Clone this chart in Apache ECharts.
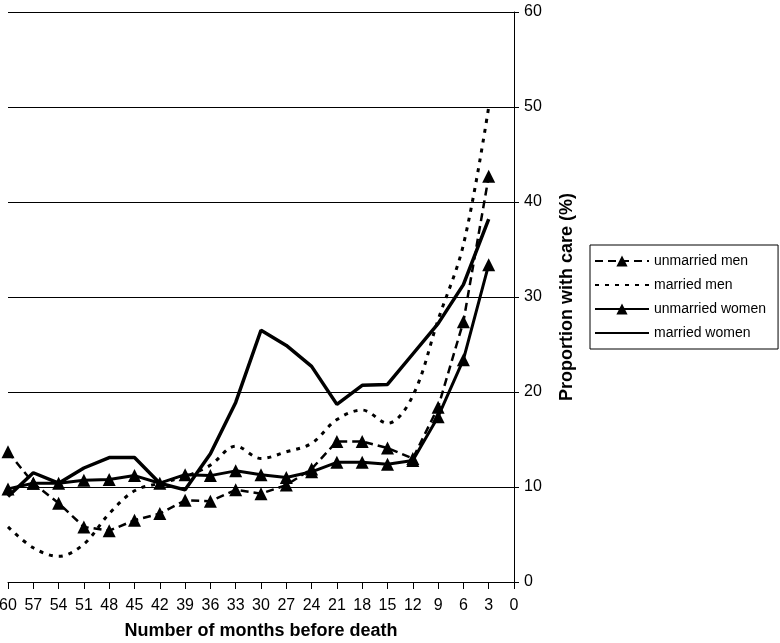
<!DOCTYPE html>
<html>
<head>
<meta charset="utf-8">
<title>Proportion with care</title>
<script src="https://cdn.jsdelivr.net/npm/echarts@6/dist/echarts.min.js"></script>
<style>
  html, body { margin: 0; padding: 0; background: #fff; }
  #main { width: 780px; height: 643px; }
</style>
</head>
<body>
<div id="main"></div>
<script>
// months before death (x axis categories)
const months = ['60', '57', '54', '51', '48', '45', '42', '39', '36', '33', '30', '27', '24', '21', '18', '15', '12', '9', '6', '3', '0']
const yTicks = [0, 10, 20, 30, 40, 50, 60]

// values, % with care, from 60 down to 3 months
const unmarriedMen = [13.7, 10.4, 8.3, 5.8, 5.4, 6.5, 7.2, 8.6, 8.5, 9.7, 9.3, 10.2, 11.9, 14.8, 14.8, 14.1, 13.0, 18.4, 27.4, 42.7]
const marriedMen = [5.8, 3.6, 2.7, 4.0, 7.2, 9.6, 10.4, 11.1, 12.3, 14.3, 13.0, 13.7, 14.6, 17.1, 18.1, 16.7, 19.6, 27.6, 35.5, 50.0]
const unmarriedWomen = [9.8, 10.4, 10.4, 10.7, 10.8, 11.2, 10.4, 11.3, 11.2, 11.7, 11.3, 11.0, 11.6, 12.6, 12.6, 12.4, 12.8, 17.4, 23.4, 33.4]
const marriedWomen = [9.0, 11.5, 10.4, 12.0, 13.1, 13.1, 10.4, 9.7, 13.5, 18.9, 26.5, 24.9, 22.7, 18.7, 20.7, 20.8, 24.0, 27.2, 31.3, 38.2]

const FONT = '"Liberation Sans", Arial, sans-serif'

const chart = echarts.init(document.getElementById('main'))

const option = {
  animation: false,
  backgroundColor: '#fff',
  textStyle: { fontFamily: FONT, color: '#000' },
  grid: {
    left: 8,
    right: 266,
    top: 12,
    bottom: 61,
    // keep the plot box where it is, the axis title sits close to the bottom edge
    outerBoundsMode: 'none',
    containLabel: false,
  },
  legend: {
    left: 590,
    top: 245,
    orient: 'vertical',
    padding: [9, 12, 9, 4],
    borderColor: '#000',
    borderWidth: 1,
    itemWidth: 54,
    itemHeight: 14,
    itemGap: 10,
    textStyle: { fontFamily: FONT, fontSize: 14, color: '#000' },
    data: [
      { name: 'unmarried men' },
      // no marker on these two, only the line
      { name: 'married men', itemStyle: { opacity: 0 } },
      { name: 'unmarried women' },
      { name: 'married women', itemStyle: { opacity: 0 } },
    ],
  },
  xAxis: {
    type: 'category',
    data: months,
    boundaryGap: false,
    name: 'Number of months before death',
    nameLocation: 'middle',
    nameGap: 40,
    nameTextStyle: { fontFamily: FONT, fontSize: 18, fontWeight: 'bold', color: '#000' },
    axisLine: { lineStyle: { color: '#000', width: 1 } },
    axisTick: { length: 7, lineStyle: { color: '#000' }, alignWithLabel: true },
    axisLabel: { fontSize: 16, color: '#000', margin: 16, interval: 0 },
    splitLine: { show: false },
  },
  yAxis: {
    type: 'value',
    position: 'right',
    min: yTicks[0],
    max: yTicks[yTicks.length - 1],
    interval: 10,
    name: 'Proportion with care (%)',
    nameLocation: 'middle',
    nameGap: 44,
    nameRotate: 90,
    nameTextStyle: { fontFamily: FONT, fontSize: 18, fontWeight: 'bold', color: '#000' },
    axisLine: { show: true, lineStyle: { color: '#000', width: 1 } },
    axisTick: { show: true, length: 5, lineStyle: { color: '#000' } },
    axisLabel: { fontSize: 16, color: '#000', margin: 10 },
    splitLine: { show: true, lineStyle: { color: '#000', width: 1 } },
  },
  series: [
    {
      name: 'unmarried men',
      type: 'line',
      data: unmarriedMen,
      symbol: 'triangle',
      symbolSize: 13,
      itemStyle: { color: '#000' },
      lineStyle: { color: '#000', width: 2.5, type: [8, 5] },
    },
    {
      name: 'married men',
      type: 'line',
      data: marriedMen,
      symbol: 'none',
      smooth: 0.35,
      itemStyle: { color: '#000' },
      lineStyle: { color: '#000', width: 3, type: [4, 6] },
    },
    {
      name: 'unmarried women',
      type: 'line',
      data: unmarriedWomen,
      symbol: 'triangle',
      symbolSize: 13,
      itemStyle: { color: '#000' },
      lineStyle: { color: '#000', width: 3 },
    },
    {
      name: 'married women',
      type: 'line',
      data: marriedWomen,
      symbol: 'none',
      itemStyle: { color: '#000' },
      lineStyle: { color: '#000', width: 3.5 },
    },
  ],
}

chart.setOption(option)
</script>
</body>
</html>
